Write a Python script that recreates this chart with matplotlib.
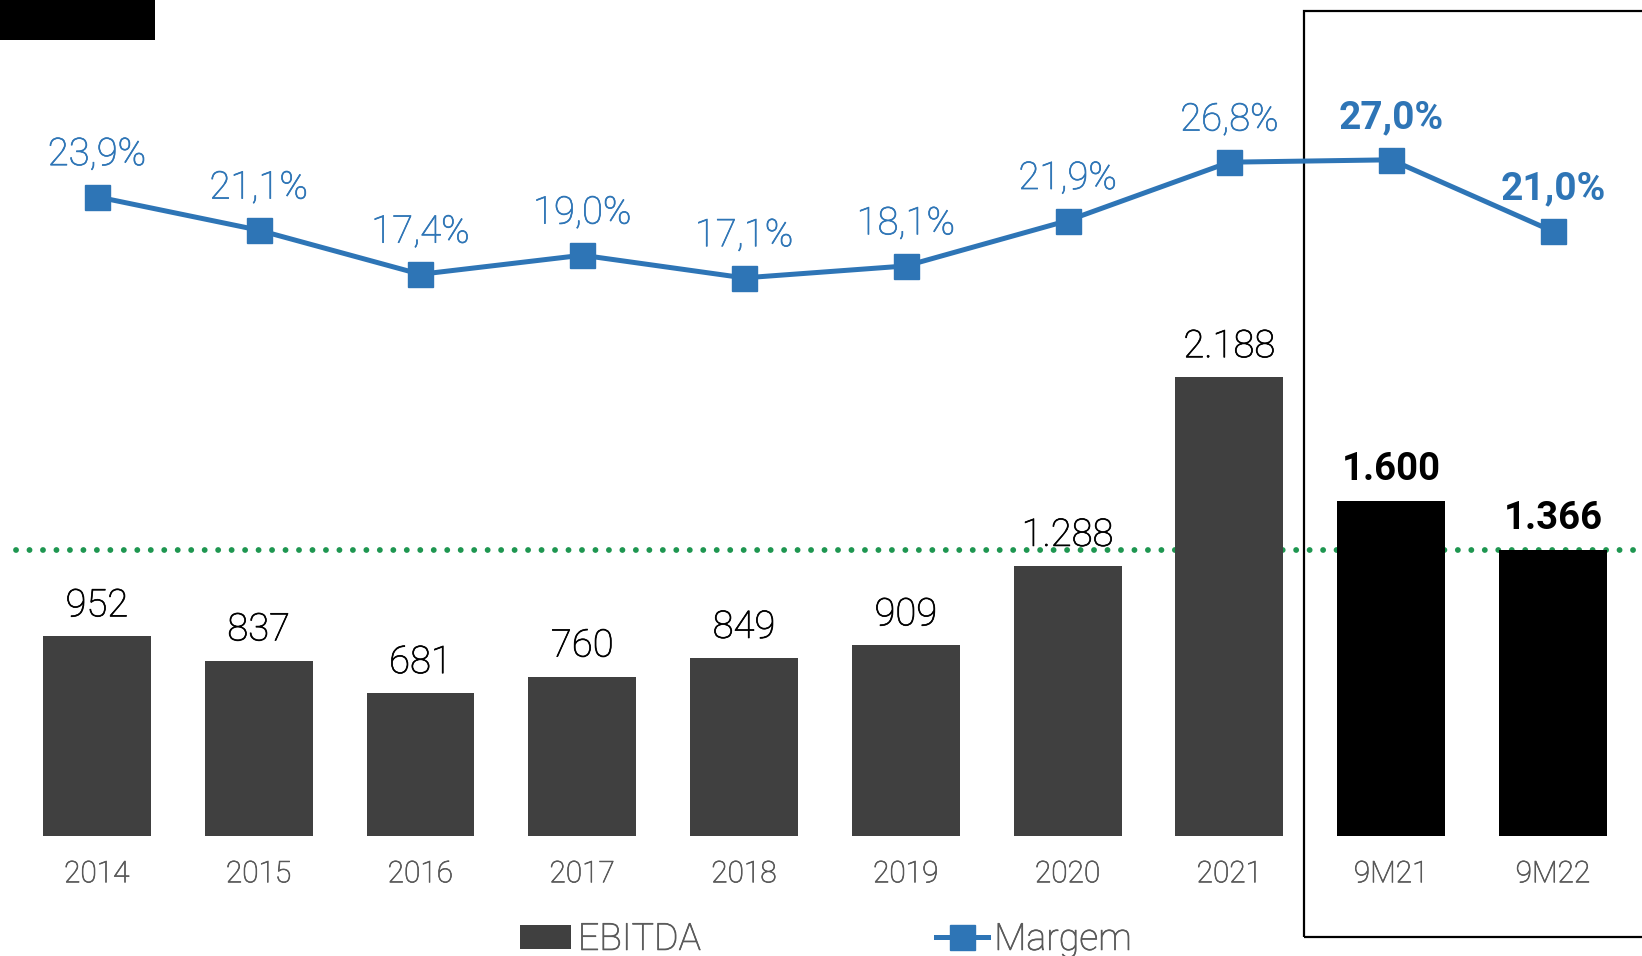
import matplotlib.pyplot as plt
import matplotlib.patheffects as pe
from matplotlib.lines import Line2D
from matplotlib.patches import Patch, Rectangle

categorias = ['2014', '2015', '2016', '2017', '2018', '2019', '2020', '2021', '9M21', '9M22']
ebitda = [952, 837, 681, 760, 849, 909, 1288, 2188, 1600, 1366]
ebitda_rotulos = ['952', '837', '681', '760', '849', '909', '1.288', '2.188', '1.600', '1.366']
margem = [23.9, 21.1, 17.4, 19.0, 17.1, 18.1, 21.9, 26.8, 27.0, 21.0]
margem_rotulos = ['23,9%', '21,1%', '17,4%', '19,0%', '17,1%', '18,1%', '21,9%', '26,8%', '27,0%', '21,0%']
destaque = [False] * 8 + [True, True]
referencia = 1366

AZUL = '#2E75B6'
CINZA_BARRA = '#404040'
CINZA_TEXTO = '#595959'
VERDE = '#1E9650'

plt.rcParams['font.family'] = ['Roboto', 'DejaVu Sans']


def engrossar(cor):
    # Roboto Light fica fino demais; um contorno leve aproxima o peso original
    return [pe.withStroke(linewidth=0.5, foreground=cor)]


W, H = 1642, 956
fig = plt.figure(figsize=(W / 100, H / 100), dpi=100)
ax = fig.add_axes([16 / W, (H - 836) / H, (W - 16) / W, 836 / H])
ax2 = ax.twinx()
ax.set_zorder(1)
ax2.set_zorder(2)
ax.patch.set_visible(False)

x = list(range(len(categorias)))
cores = ['black' if d else CINZA_BARRA for d in destaque]
ax.bar(x, ebitda, width=0.667, color=cores, zorder=3)
ax.axhline(referencia, color=VERDE, lw=4.2, ls=(0, (0.01, 2.3)),
           dash_capstyle='round', zorder=1, clip_on=False)

for xi, v, r, d in zip(x, ebitda, ebitda_rotulos, destaque):
    ax.annotate(r, (xi, v), xytext=(0, 22.2), textcoords='offset points',
                ha='center', va='center', fontsize=27.5,
                fontweight='bold' if d else 'light', color='black',
                path_effects=None if d else engrossar('black'))

ax.set_xlim(-0.5, 9.55)
ax.set_ylim(0, 3988)
ax.set_xticks(x)
ax.set_xticklabels(categorias, fontsize=21.5, color=CINZA_TEXTO, fontweight='light')
for t in ax.get_xticklabels():
    t.set_path_effects(engrossar(CINZA_TEXTO))
ax.tick_params(axis='x', length=0, pad=17.5)
ax.set_yticks([])

ax2.plot(x, margem, color=AZUL, lw=3.6, marker='s', markersize=18, zorder=4)
for xi, v, r, d in zip(x, margem, margem_rotulos, destaque):
    ax2.annotate(r, (xi, v), xytext=(0, 30.5), textcoords='offset points',
                 ha='center', va='center', fontsize=27.5 if not d else 28,
                 fontweight='bold' if d else 'light', color=AZUL,
                 path_effects=None if d else engrossar(AZUL))
ax2.set_ylim(-29.7, 40.4)
ax2.set_yticks([])

for a in (ax, ax2):
    for s in a.spines.values():
        s.set_visible(False)

# caixa de destaque 9M e retangulo preto no topo
fig.add_artist(Rectangle((1304 / W, (H - 937) / H), 400 / W, 926 / H,
                         transform=fig.transFigure, fill=False,
                         edgecolor='black', lw=1.6, clip_on=False))
fig.add_artist(Rectangle((0, (H - 40) / H), 155 / W, 40 / H,
                         transform=fig.transFigure, facecolor='black',
                         edgecolor='none'))

alcas = [Patch(facecolor=CINZA_BARRA, edgecolor='none'),
         Line2D([0], [0], color=AZUL, lw=3.6, marker='s', markersize=18)]
leg = fig.legend(alcas, ['EBITDA', 'Margem'], loc='center',
                 bbox_to_anchor=(0.503, 0.0176), ncol=2, frameon=False,
                 fontsize=27, handlelength=1.37, handleheight=0.6,
                 handletextpad=0.17, columnspacing=6.28)
for t in leg.get_texts():
    t.set_color(CINZA_TEXTO)
    t.set_fontweight('light')
    t.set_path_effects(engrossar(CINZA_TEXTO))

fig.savefig('out.png', dpi=100)
